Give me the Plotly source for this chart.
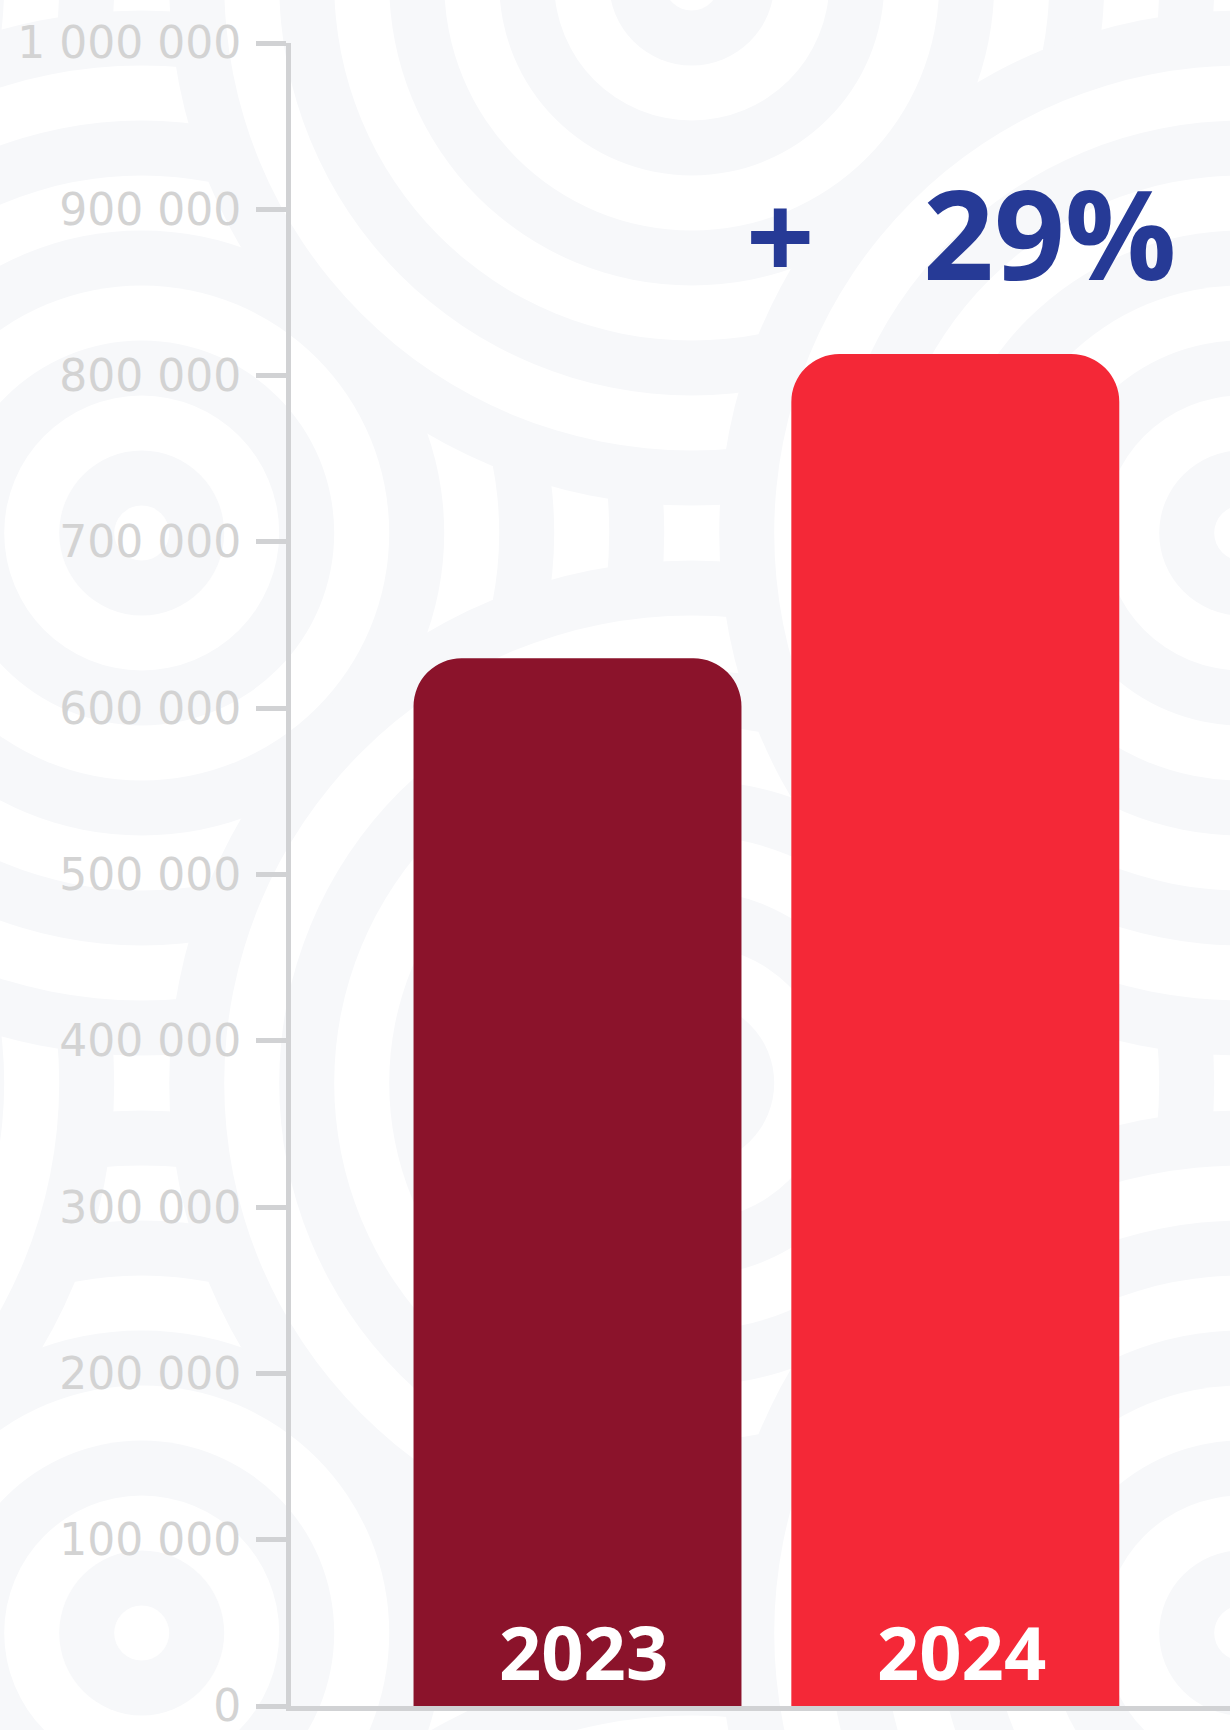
import plotly.graph_objects as go

# ---- data ----
years = ["2023", "2024"]
values = [630000, 813000]
bar_colors = ["#8B132B", "#F42837"]
tick_values = [0, 100000, 200000, 300000, 400000, 500000, 600000, 700000, 800000, 900000, 1000000]
tick_labels = ["0", "100 000", "200 000", "300 000", "400 000", "500 000",
               "600 000", "700 000", "800 000", "900 000", "1 000 000"]

growth = round((values[1] / values[0] - 1) * 100)

# ---- layout geometry (pixels) ----
W_FIG, H_FIG = 1230, 1730
M_L, M_R, M_T, M_B = 291, 0, 43, 24
PW = W_FIG - M_L - M_R
PH = H_FIG - M_T - M_B

PX_PER_CAT = 377.8
c0 = 577.5
x_lo = -(c0 - M_L) / PX_PER_CAT
x_hi = (W_FIG - c0) / PX_PER_CAT

def px(xp):
    return (xp - M_L) / PW

def py(yp):
    return 1 - (yp - M_T) / PH

# ---- decorative background: overlapping concentric-ring stamps ----
GRAY = "#f7f8fa"
gx0, gy0, step = 141.7, -17.0, 550.0
stamp_order = [(0, -1), (2, -1), (-1, 0), (0, 3), (-1, 2), (-1, 4), (0, 1),
               (1, 0), (1, 2), (1, 4), (2, 1), (2, 3), (3, 0), (3, 2), (3, 4)]
radii = [522.5, 467.5, 412.5, 357.5, 302.5, 247.5, 192.5, 137.5, 82.5, 27.5]
shapes = []
for (i, j) in stamp_order:
    cx, cy = gx0 + step * i, gy0 + step * j
    for n, r in enumerate(radii):
        col = GRAY if n % 2 == 0 else "#ffffff"
        shapes.append(dict(
            type="circle", xref="paper", yref="paper", layer="below",
            x0=px(cx - r), x1=px(cx + r), y0=py(cy + r), y1=py(cy - r),
            line=dict(width=0), fillcolor=col,
        ))

fig = go.Figure()
fig.add_trace(go.Bar(
    x=years, y=values,
    marker=dict(color=bar_colors, line=dict(width=0)),
    width=0.868,
    hoverinfo="skip",
))

# year labels at the foot of each bar (x = category index on the category axis)
for idx, yr in enumerate(years):
    fig.add_annotation(text=yr, x=idx, y=0, xref="x", yref="y",
                       xanchor="center", yanchor="bottom", xshift=6, yshift=2,
                       showarrow=False,
                       font=dict(family="Open Sans", size=74, color="white", weight="bold"))

NAVY = "#263a96"
fig.add_annotation(text="+", xref="paper", yref="paper", x=px(780.5), y=py(234),
                   xanchor="center", yanchor="middle", showarrow=False,
                   font=dict(family="Open Sans", size=120, color=NAVY, weight="bold"))
fig.add_annotation(text=f"{growth}%", xref="paper", yref="paper", x=px(1050), y=py(232),
                   xanchor="center", yanchor="middle", showarrow=False,
                   font=dict(family="Open Sans", size=124, color=NAVY, weight="bold"))

AX = "#d1d2d4"
fig.update_layout(
    width=W_FIG, height=H_FIG,
    margin=dict(l=M_L, r=M_R, t=M_T, b=M_B, pad=0),
    paper_bgcolor="white", plot_bgcolor="rgba(0,0,0,0)",
    showlegend=False, barcornerradius=48,
    shapes=shapes,
    xaxis=dict(type="category", range=[x_lo, x_hi], showticklabels=False, ticks="",
               showgrid=False, zeroline=False, showline=True, linecolor=AX, linewidth=5,
               fixedrange=True),
    yaxis=dict(range=[0, 1000000], tickvals=tick_values, ticktext=tick_labels,
               ticks="outside", ticklen=30, tickwidth=5, tickcolor=AX,
               showgrid=False, zeroline=False, showline=True, linecolor=AX, linewidth=5,
               tickfont=dict(family="DejaVu Sans", size=44, color="#d3d3d3"),
               ticklabelstandoff=6, ticklabeloverflow="allow", fixedrange=True),
)

fig.write_html("out.html", config={"displayModeBar": False},
               post_script="document.body.style.margin='0';")
